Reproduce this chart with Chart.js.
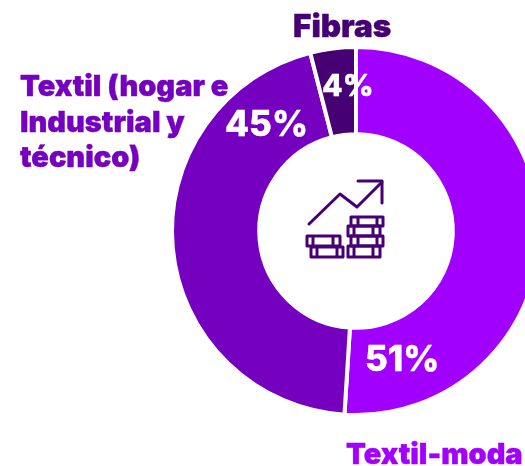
<!DOCTYPE html>
<html><head><meta charset="utf-8">
<style>
html,body{margin:0;padding:0;width:525px;height:466px;overflow:hidden;background:#fff}
#wrap{position:absolute;left:0;top:0;width:712px;height:466px}
#icon{position:absolute;left:300px;top:172px}
</style>
<script src="https://cdn.jsdelivr.net/npm/chart.js@4"></script>
</head><body>
<div id="wrap"><canvas id="c" width="712" height="466"></canvas></div>
<svg id="icon" width="92" height="92" viewBox="0 0 92 92" fill="none" stroke="#460073" stroke-width="3" stroke-linecap="round" stroke-linejoin="round">
<path d="M9 52 L40 22 L57 35 L82 10"/><path d="M58 9 H82 V31"/>
<path d="M7 64 H40 V74 H7 Z M13 64 V74 M33 64 V74"/>
<path d="M11 75 H43 V85 H11 Z M17 75 V85 M37 75 V85"/>
<path d="M51 45 H83 V54 H51 Z M58 45 V54 M77 45 V54"/>
<path d="M48 54 H80 V64 H48 Z M54 54 V64 M73 54 V64"/>
<path d="M51 64 H83 V74 H51 Z M58 64 V74 M77 64 V74"/>
<path d="M48 74 H80 V85 H48 Z M54 74 V85 M73 74 V85"/>
</svg>
<script>
const categories = ['Textil-moda', 'Textil (hogar e Industrial y técnico)', 'Fibras'];
const shares = [51, 45, 4];
const sliceColors = ['#A100FF', '#7500C0', '#460073'];
const percentLabels = ['51%', '45%', '4%'];

const textPlugin = {
  id: 'texts',
  afterDraw(chart) {
    const ctx = chart.ctx;
    const put = (t, x, y) => { ctx.strokeStyle = ctx.fillStyle; ctx.lineWidth = 0.4; ctx.lineJoin = 'round'; ctx.strokeText(t, x, y); ctx.fillText(t, x, y); };
    ctx.save();
    ctx.textBaseline = 'alphabetic';
    ctx.textAlign = 'left';
    ctx.font = '900 31.5px Inter';
    ctx.fillStyle = '#460073';
    put('Fibras', 293, 37);
    ctx.font = '900 29px Inter';
    ctx.fillStyle = '#7500C0';
    put('Textil (hogar e', 20, 96);
    put('Industrial y', 20, 132);
    put('técnico)', 20, 167);
    ctx.fillStyle = '#A100FF';
    put('Textil-moda', 346, 464);
    ctx.fillStyle = '#fff';
    ctx.font = '800 35px Inter';
    put(percentLabels[0], 365, 371);
    put(percentLabels[1], 225, 136);
    ctx.font = '800 30px Inter';
    put(percentLabels[2], 322, 96);
    ctx.restore();
  }
};

new Chart(document.getElementById('c'), {
  type: 'doughnut',
  data: { labels: categories, datasets: [{ data: shares, backgroundColor: sliceColors, borderColor: '#fff', borderWidth: 4 }] },
  options: {
    responsive: false,
    animation: false,
    cutout: '52.6%',
    layout: { padding: { top: 45, bottom: 49, left: 0, right: 0 } },
    plugins: { legend: { display: false }, tooltip: { enabled: false } }
  },
  plugins: [textPlugin]
});
</script>
</body></html>
